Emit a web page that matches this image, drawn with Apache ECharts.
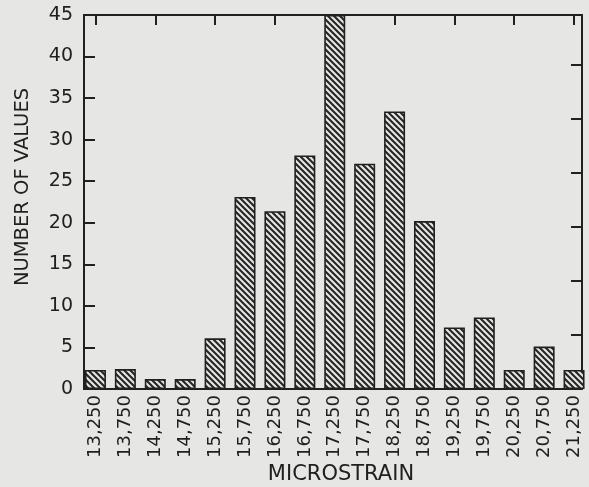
<!DOCTYPE html>
<html>
<head>
<meta charset="utf-8">
<script src="https://cdn.jsdelivr.net/npm/echarts@6/dist/echarts.min.js"></script>
<style>
html,body{margin:0;padding:0;background:#e6e6e4;}
#main{width:589px;height:487px;}
</style>
</head>
<body>
<div id="main"></div>
<script>
var categories = ['13,250','13,750','14,250','14,750','15,250','15,750','16,250','16,750','17,250','17,750','18,250','18,750','19,250','19,750','20,250','20,750','21,250'];
var counts = [2.3, 2.4, 1.2, 1.2, 6.1, 23.1, 21.4, 28.1, 45, 27.1, 33.4, 20.2, 7.4, 8.6, 2.3, 5.1, 2.3];
var yTitle = 'NUMBER OF VALUES';
var xTitle = 'MICROSTRAIN';

var ink = '#202020';
var font = "'DejaVu Sans', 'Liberation Sans', Arial, sans-serif";

// diagonal hatch pattern
var tile = document.createElement('canvas');
tile.width = 6; tile.height = 6;
var c = tile.getContext('2d');
c.fillStyle = '#e6e6e4';
c.fillRect(0, 0, 6, 6);
c.strokeStyle = '#262626';
c.lineWidth = 2.1;
c.beginPath();
c.moveTo(-1, -1); c.lineTo(7, 7);
c.moveTo(-1, 5); c.lineTo(1, 7);
c.moveTo(5, -1); c.lineTo(7, 1);
c.stroke();

var chart = echarts.init(document.getElementById('main'), null, {renderer: 'canvas'});
chart.setOption({
  backgroundColor: '#e6e6e4',
  animation: false,
  grid: [
    {left: 84, right: 7, top: 15, bottom: 98},
    {left: 80.5, right: 0, top: 15, bottom: 98}
  ],
  xAxis: [
    {gridIndex: 0, type: 'value', min: 0, max: 1, position: 'bottom',
     axisLine: {show: true, onZero: false, lineStyle: {color: ink, width: 2}},
     axisTick: {show: false}, axisLabel: {show: false}, splitLine: {show: false}},
    {gridIndex: 0, type: 'value', min: 0, max: 1, position: 'top',
     axisLine: {show: true, onZero: false, lineStyle: {color: ink, width: 2}},
     axisTick: {show: false}, axisLabel: {show: false}, splitLine: {show: false}},
    {gridIndex: 1, type: 'category', data: categories, position: 'bottom',
     axisLine: {show: false, onZero: false}, axisTick: {show: false},
     axisLabel: {rotate: 90, margin: 6, color: ink, fontSize: 18, fontFamily: font, interval: 0}},
    {gridIndex: 1, type: 'category', data: categories, position: 'top',
     axisLine: {show: false, onZero: false},
     axisTick: {show: true, inside: true, alignWithLabel: true, length: 10, lineStyle: {color: ink, width: 2}},
     axisLabel: {show: false}}
  ],
  yAxis: [
    {gridIndex: 0, type: 'value', min: 0, max: 45, interval: 5, position: 'left',
     axisLine: {show: true, onZero: false, lineStyle: {color: ink, width: 2}},
     axisTick: {show: true, inside: true, length: 11, lineStyle: {color: ink, width: 2}},
     axisLabel: {color: ink, fontSize: 19, fontFamily: font, margin: 11},
     splitLine: {show: false}},
    {gridIndex: 0, type: 'value', min: 0, max: 45, interval: 6.5, position: 'right',
     axisLine: {show: true, onZero: false, lineStyle: {color: ink, width: 2}},
     axisTick: {show: true, inside: true, length: 11, lineStyle: {color: ink, width: 2}},
     axisLabel: {show: false}, splitLine: {show: false}},
    {gridIndex: 1, type: 'value', min: 0, max: 45, show: false}
  ],
  series: [{
    type: 'bar',
    xAxisIndex: 2,
    yAxisIndex: 2,
    data: counts,
    barWidth: 21,
    z: 3,
    itemStyle: {
      color: {image: tile, repeat: 'repeat'},
      borderColor: ink,
      borderWidth: 1.6
    }
  }],
  graphic: [
    {type: 'text', x: 23, y: 187, rotation: Math.PI / 2,
     style: {text: yTitle, fill: ink, font: '19.5px ' + font, textAlign: 'center', textVerticalAlign: 'middle'}},
    {type: 'text', x: 341, y: 475,
     style: {text: xTitle, fill: ink, font: '21px ' + font, textAlign: 'center', textVerticalAlign: 'middle'}}
  ]
});
</script>
</body>
</html>
